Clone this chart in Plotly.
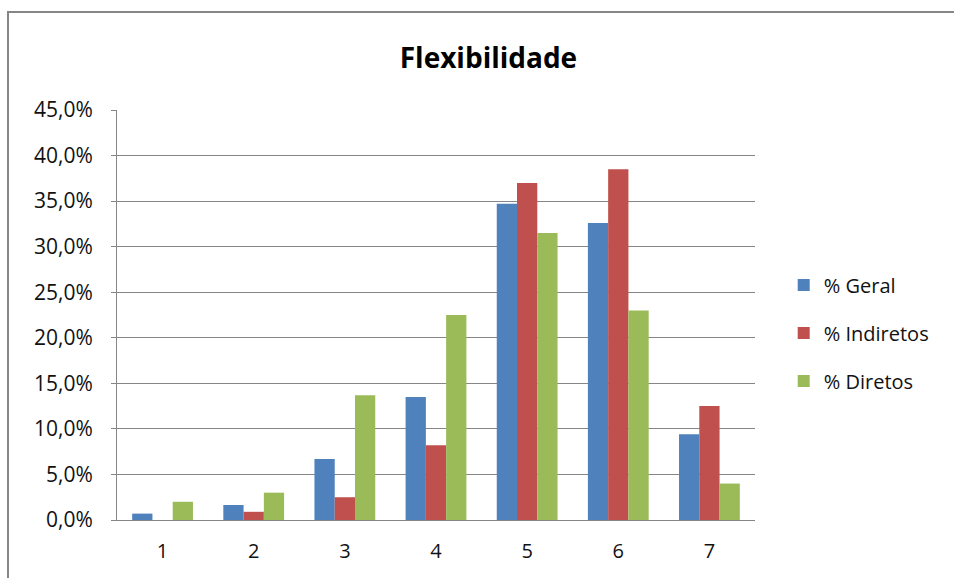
import plotly.graph_objects as go

# Flexibility score distribution by group
categories = ["1", "2", "3", "4", "5", "6", "7"]
geral = [0.007, 0.0165, 0.067, 0.135, 0.347, 0.326, 0.094]
indiretos = [0.0, 0.009, 0.025, 0.082, 0.370, 0.385, 0.125]
diretos = [0.020, 0.030, 0.137, 0.225, 0.315, 0.230, 0.040]

series = [
    ("% Geral", geral, "#4F81BD"),
    ("% Indiretos", indiretos, "#C0504D"),
    ("% Diretos", diretos, "#9BBB59"),
]

FONT = "Open Sans, Lato, sans-serif"

fig = go.Figure()
for i, (name, vals, color) in enumerate(series):
    fig.add_trace(go.Bar(
        x=categories, y=vals, name=name,
        marker=dict(color=color, line=dict(width=0)),
        legendgroup=str(i),
    ))

fig.update_layout(
    width=954, height=578,
    margin=dict(l=117, r=199, t=110, b=58),
    paper_bgcolor="white", plot_bgcolor="white",
    separators=",.",
    barmode="group", bargap=0.333, bargroupgap=0,
    title=dict(text="<b>Flexibilidade</b>", x=0.512, xanchor="center",
               y=0.9, yanchor="middle",
               font=dict(family=FONT, size=28, color="black")),
    font=dict(family=FONT, size=19, color="#111"),
    legend=dict(x=1.045, xanchor="left", y=0.456, yanchor="middle",
                font=dict(family=FONT, size=20, color="#111"),
                tracegroupgap=19, itemwidth=30, bgcolor="rgba(0,0,0,0)"),
    xaxis=dict(showgrid=False, showline=True, linecolor="#868686", linewidth=1,
               ticks="", tickfont=dict(size=20), ticklabelstandoff=13),
    yaxis=dict(range=[0, 0.45], dtick=0.05, tickformat=".1%",
               showgrid=True, gridcolor="#868686", gridwidth=1,
               showline=True, linecolor="#868686", linewidth=1,
               ticks="outside", ticklen=5, tickcolor="#868686",
               zeroline=False, tickfont=dict(size=21), ticklabelstandoff=14),
    shapes=[dict(type="rect", xref="paper", yref="paper",
                 x0=-109 / 638, x1=1.5, y0=-0.5, y1=(578 - 12 - 58) / 410,
                 line=dict(color="#868686", width=2), fillcolor="rgba(0,0,0,0)",
                 layer="below")],
)

fig.write_html("out.html")
